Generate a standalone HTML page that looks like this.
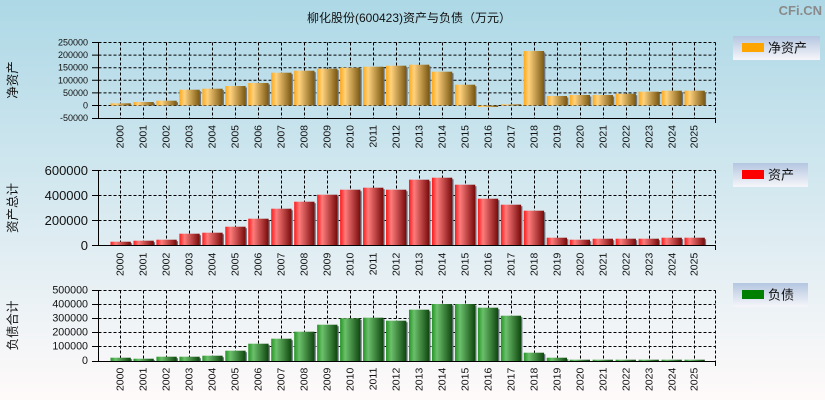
<!DOCTYPE html>
<html><head><meta charset="utf-8">
<style>
html,body{margin:0;padding:0;}
body{width:825px;height:400px;overflow:hidden;}
svg{display:block;}
text{font-family:"Liberation Sans","Noto Sans CJK SC",sans-serif;}
</style></head>
<body>
<svg width="825" height="400" viewBox="0 0 825 400" xmlns="http://www.w3.org/2000/svg">
<defs>
<linearGradient id="bg" x1="0" y1="0" x2="0" y2="1">
<stop offset="0" stop-color="#ADD8E6"/><stop offset="1" stop-color="#FFFAFA"/>
</linearGradient>
<linearGradient id="lg" x1="0" y1="0" x2="0" y2="1">
<stop offset="0" stop-color="#B4C6E0"/><stop offset="1" stop-color="#F6F6FA"/>
</linearGradient>
<linearGradient id="go" x1="0" y1="0" x2="1" y2="0">
<stop offset="0" stop-color="#FFA818"/><stop offset="0.25" stop-color="#FFD27E"/><stop offset="1" stop-color="#7A5812"/>
</linearGradient>
<linearGradient id="gr" x1="0" y1="0" x2="1" y2="0">
<stop offset="0" stop-color="#FF1818"/><stop offset="0.25" stop-color="#FF7C7C"/><stop offset="1" stop-color="#780A0A"/>
</linearGradient>
<linearGradient id="gg" x1="0" y1="0" x2="1" y2="0">
<stop offset="0" stop-color="#249424"/><stop offset="0.25" stop-color="#6CC06C"/><stop offset="1" stop-color="#0E460E"/>
</linearGradient>
</defs>
<rect x="0" y="0" width="825" height="400" fill="url(#bg)"/>

<!-- title -->
<text x="409" y="22" font-size="12" text-anchor="middle" fill="#111">柳化股份(600423)资产与负债（万元）</text>
<text x="822" y="15" font-size="13" font-weight="bold" text-anchor="end" fill="#8A8A8A">CFi.CN</text>

<!-- ============ TOP CHART ============ -->
<g stroke="#000" stroke-width="1" fill="none" stroke-dasharray="3,2">
<path d="M98.5 42.5H715.5M98.5 55.1H715.5M98.5 67.7H715.5M98.5 80.3H715.5M98.5 92.9H715.5M98.5 105.5H715.5"/>
<path d="M120.5 42.5V118M143.5 42.5V118M166.5 42.5V118M189.5 42.5V118M212.5 42.5V118M235.5 42.5V118M258.5 42.5V118M281.5 42.5V118M304.5 42.5V118M327.5 42.5V118M350.5 42.5V118M373.5 42.5V118M396.5 42.5V118M419.5 42.5V118M442.5 42.5V118M465.5 42.5V118M488.5 42.5V118M511.5 42.5V118M534.5 42.5V118M557.5 42.5V118M580.5 42.5V118M603.5 42.5V118M626.5 42.5V118M649.5 42.5V118M672.5 42.5V118M694.5 42.5V118M715.5 42.5V118"/>
</g>
<g fill="#6A7480">
<rect x="111.8" y="104.8" width="20.3" height="0.7"/>
<rect x="134.76" y="103.5" width="20.3" height="2"/>
<rect x="157.72" y="102.2" width="20.3" height="3.3"/>
<rect x="180.68" y="91.2" width="20.3" height="14.3"/>
<rect x="203.64" y="90.2" width="20.3" height="15.3"/>
<rect x="226.6" y="87.5" width="20.3" height="18"/>
<rect x="249.56" y="84.5" width="20.3" height="21"/>
<rect x="272.52" y="74.2" width="20.3" height="31.3"/>
<rect x="295.48" y="72.2" width="20.3" height="33.3"/>
<rect x="318.44" y="70.2" width="20.3" height="35.3"/>
<rect x="341.4" y="69.2" width="20.3" height="36.3"/>
<rect x="364.36" y="68.2" width="20.3" height="37.3"/>
<rect x="387.32" y="67.2" width="20.3" height="38.3"/>
<rect x="410.28" y="66.2" width="20.3" height="39.3"/>
<rect x="433.24" y="73.2" width="20.3" height="32.3"/>
<rect x="456.2" y="86.2" width="20.3" height="19.3"/>
<rect x="525.08" y="52.5" width="20.3" height="53"/>
<rect x="548.04" y="97.5" width="20.3" height="8"/>
<rect x="571" y="96.5" width="20.3" height="9"/>
<rect x="593.96" y="96.5" width="20.3" height="9"/>
<rect x="616.92" y="95.2" width="20.3" height="10.3"/>
<rect x="639.88" y="93.2" width="20.3" height="12.3"/>
<rect x="662.84" y="92.2" width="20.3" height="13.3"/>
<rect x="685.8" y="92.2" width="20.3" height="13.3"/>
</g>
<g fill="url(#go)">
<rect x="110.5" y="103.3" width="20.3" height="2.2"/>
<rect x="133.46" y="102" width="20.3" height="3.5"/>
<rect x="156.42" y="100.7" width="20.3" height="4.8"/>
<rect x="179.38" y="89.7" width="20.3" height="15.8"/>
<rect x="202.34" y="88.7" width="20.3" height="16.8"/>
<rect x="225.3" y="86" width="20.3" height="19.5"/>
<rect x="248.26" y="83" width="20.3" height="22.5"/>
<rect x="271.22" y="72.7" width="20.3" height="32.8"/>
<rect x="294.18" y="70.7" width="20.3" height="34.8"/>
<rect x="317.14" y="68.7" width="20.3" height="36.8"/>
<rect x="340.1" y="67.7" width="20.3" height="37.8"/>
<rect x="363.06" y="66.7" width="20.3" height="38.8"/>
<rect x="386.02" y="65.7" width="20.3" height="39.8"/>
<rect x="408.98" y="64.7" width="20.3" height="40.8"/>
<rect x="431.94" y="71.7" width="20.3" height="33.8"/>
<rect x="454.9" y="84.7" width="20.3" height="20.8"/>
<rect x="477.86" y="105.5" width="20.3" height="1.5"/>
<rect x="500.82" y="104.3" width="20.3" height="1.2"/>
<rect x="523.78" y="51" width="20.3" height="54.5"/>
<rect x="546.74" y="96" width="20.3" height="9.5"/>
<rect x="569.7" y="95" width="20.3" height="10.5"/>
<rect x="592.66" y="95" width="20.3" height="10.5"/>
<rect x="615.62" y="93.7" width="20.3" height="11.8"/>
<rect x="638.58" y="91.7" width="20.3" height="13.8"/>
<rect x="661.54" y="90.7" width="20.3" height="14.8"/>
<rect x="684.5" y="90.7" width="20.3" height="14.8"/>
</g>
<g stroke="#000" stroke-width="1" fill="none">
<path d="M98.5 42.5V118.5M92 118.5H716M715.5 118V123"/>
<path d="M92 42.5H98.5M92 55.1H98.5M92 67.7H98.5M92 80.3H98.5M92 92.9H98.5M92 105.5H98.5"/>
</g>
<g font-size="9" text-anchor="end" fill="#111" dominant-baseline="central">
<text x="88" y="42.5">250000</text>
<text x="88" y="55.1">200000</text>
<text x="88" y="67.7">150000</text>
<text x="88" y="80.3">100000</text>
<text x="88" y="92.9">50000</text>
<text x="88" y="105.5">0</text>
<text x="88" y="118">-50000</text>
</g>
<text transform="translate(13,80) rotate(-90)" font-size="12.5" text-anchor="middle" dominant-baseline="central" fill="#111">净资产</text>

<!-- ============ MIDDLE CHART ============ -->
<g stroke="#000" stroke-width="1" fill="none" stroke-dasharray="3,2">
<path d="M98.5 170.5H715.5M98.5 195.5H715.5M98.5 220.5H715.5"/>
<path d="M120.5 170.5V245M143.5 170.5V245M166.5 170.5V245M189.5 170.5V245M212.5 170.5V245M235.5 170.5V245M258.5 170.5V245M281.5 170.5V245M304.5 170.5V245M327.5 170.5V245M350.5 170.5V245M373.5 170.5V245M396.5 170.5V245M419.5 170.5V245M442.5 170.5V245M465.5 170.5V245M488.5 170.5V245M511.5 170.5V245M534.5 170.5V245M557.5 170.5V245M580.5 170.5V245M603.5 170.5V245M626.5 170.5V245M649.5 170.5V245M672.5 170.5V245M694.5 170.5V245M715.5 170.5V245"/>
</g>
<g fill="#6A7480">
<rect x="111.8" y="243.2" width="20.3" height="2.1"/>
<rect x="134.76" y="242.2" width="20.3" height="3.1"/>
<rect x="157.72" y="241.2" width="20.3" height="4.1"/>
<rect x="180.68" y="235.2" width="20.3" height="10.1"/>
<rect x="203.64" y="234.2" width="20.3" height="11.1"/>
<rect x="226.6" y="228.2" width="20.3" height="17.1"/>
<rect x="249.56" y="220.2" width="20.3" height="25.1"/>
<rect x="272.52" y="210.2" width="20.3" height="35.1"/>
<rect x="295.48" y="203.2" width="20.3" height="42.1"/>
<rect x="318.44" y="196.2" width="20.3" height="49.1"/>
<rect x="341.4" y="191.2" width="20.3" height="54.1"/>
<rect x="364.36" y="189.2" width="20.3" height="56.1"/>
<rect x="387.32" y="191.2" width="20.3" height="54.1"/>
<rect x="410.28" y="181.2" width="20.3" height="64.1"/>
<rect x="433.24" y="179.2" width="20.3" height="66.1"/>
<rect x="456.2" y="186.2" width="20.3" height="59.1"/>
<rect x="479.16" y="200.2" width="20.3" height="45.1"/>
<rect x="502.12" y="206.2" width="20.3" height="39.1"/>
<rect x="525.08" y="212.2" width="20.3" height="33.1"/>
<rect x="548.04" y="239.2" width="20.3" height="6.1"/>
<rect x="571" y="241.2" width="20.3" height="4.1"/>
<rect x="593.96" y="240.2" width="20.3" height="5.1"/>
<rect x="616.92" y="240.2" width="20.3" height="5.1"/>
<rect x="639.88" y="240.2" width="20.3" height="5.1"/>
<rect x="662.84" y="239.2" width="20.3" height="6.1"/>
<rect x="685.8" y="239.2" width="20.3" height="6.1"/>
</g>
<g fill="url(#gr)">
<rect x="110.5" y="241.7" width="20.3" height="3.6"/>
<rect x="133.46" y="240.7" width="20.3" height="4.6"/>
<rect x="156.42" y="239.7" width="20.3" height="5.6"/>
<rect x="179.38" y="233.7" width="20.3" height="11.6"/>
<rect x="202.34" y="232.7" width="20.3" height="12.6"/>
<rect x="225.3" y="226.7" width="20.3" height="18.6"/>
<rect x="248.26" y="218.7" width="20.3" height="26.6"/>
<rect x="271.22" y="208.7" width="20.3" height="36.6"/>
<rect x="294.18" y="201.7" width="20.3" height="43.6"/>
<rect x="317.14" y="194.7" width="20.3" height="50.6"/>
<rect x="340.1" y="189.7" width="20.3" height="55.6"/>
<rect x="363.06" y="187.7" width="20.3" height="57.6"/>
<rect x="386.02" y="189.7" width="20.3" height="55.6"/>
<rect x="408.98" y="179.7" width="20.3" height="65.6"/>
<rect x="431.94" y="177.7" width="20.3" height="67.6"/>
<rect x="454.9" y="184.7" width="20.3" height="60.6"/>
<rect x="477.86" y="198.7" width="20.3" height="46.6"/>
<rect x="500.82" y="204.7" width="20.3" height="40.6"/>
<rect x="523.78" y="210.7" width="20.3" height="34.6"/>
<rect x="546.74" y="237.7" width="20.3" height="7.6"/>
<rect x="569.7" y="239.7" width="20.3" height="5.6"/>
<rect x="592.66" y="238.7" width="20.3" height="6.6"/>
<rect x="615.62" y="238.7" width="20.3" height="6.6"/>
<rect x="638.58" y="238.7" width="20.3" height="6.6"/>
<rect x="661.54" y="237.7" width="20.3" height="7.6"/>
<rect x="684.5" y="237.7" width="20.3" height="7.6"/>
</g>
<g stroke="#000" stroke-width="1" fill="none">
<path d="M98.5 170.5V245.5M92 245.5H716M715.5 245V250"/>
<path d="M92 170.5H98.5M92 195.5H98.5M92 220.5H98.5"/>
</g>
<g font-size="13" text-anchor="end" fill="#111" dominant-baseline="central">
<text x="88" y="170.5">600000</text>
<text x="88" y="195.5">400000</text>
<text x="88" y="220.5">200000</text>
<text x="88" y="245.5">0</text>
</g>
<text transform="translate(13,208) rotate(-90)" font-size="12.5" text-anchor="middle" dominant-baseline="central" fill="#111">资产总计</text>

<!-- ============ BOTTOM CHART ============ -->
<g stroke="#000" stroke-width="1" fill="none" stroke-dasharray="3,2">
<path d="M98.5 290.5H715.5M98.5 304.5H715.5M98.5 318.5H715.5M98.5 332.5H715.5M98.5 346.5H715.5"/>
<path d="M120.5 290.5V361M143.5 290.5V361M166.5 290.5V361M189.5 290.5V361M212.5 290.5V361M235.5 290.5V361M258.5 290.5V361M281.5 290.5V361M304.5 290.5V361M327.5 290.5V361M350.5 290.5V361M373.5 290.5V361M396.5 290.5V361M419.5 290.5V361M442.5 290.5V361M465.5 290.5V361M488.5 290.5V361M511.5 290.5V361M534.5 290.5V361M557.5 290.5V361M580.5 290.5V361M603.5 290.5V361M626.5 290.5V361M649.5 290.5V361M672.5 290.5V361M694.5 290.5V361M715.5 290.5V361"/>
</g>
<g fill="#6A7480">
<rect x="111.8" y="359.2" width="20.3" height="1.8"/>
<rect x="134.76" y="360.2" width="20.3" height="0.8"/>
<rect x="157.72" y="358.2" width="20.3" height="2.8"/>
<rect x="180.68" y="358.2" width="20.3" height="2.8"/>
<rect x="203.64" y="357.2" width="20.3" height="3.8"/>
<rect x="226.6" y="352.2" width="20.3" height="8.8"/>
<rect x="249.56" y="345.2" width="20.3" height="15.8"/>
<rect x="272.52" y="340.2" width="20.3" height="20.8"/>
<rect x="295.48" y="333.2" width="20.3" height="27.8"/>
<rect x="318.44" y="326.2" width="20.3" height="34.8"/>
<rect x="341.4" y="319.8" width="20.3" height="41.2"/>
<rect x="364.36" y="319.2" width="20.3" height="41.8"/>
<rect x="387.32" y="322.2" width="20.3" height="38.8"/>
<rect x="410.28" y="311.2" width="20.3" height="49.8"/>
<rect x="433.24" y="305.5" width="20.3" height="55.5"/>
<rect x="456.2" y="305.5" width="20.3" height="55.5"/>
<rect x="479.16" y="309.2" width="20.3" height="51.8"/>
<rect x="502.12" y="317.2" width="20.3" height="43.8"/>
<rect x="525.08" y="354.2" width="20.3" height="6.8"/>
<rect x="548.04" y="359.2" width="20.3" height="1.8"/>
</g>
<g fill="url(#gg)">
<rect x="110.5" y="357.7" width="20.3" height="3.3"/>
<rect x="133.46" y="358.7" width="20.3" height="2.3"/>
<rect x="156.42" y="356.7" width="20.3" height="4.3"/>
<rect x="179.38" y="356.7" width="20.3" height="4.3"/>
<rect x="202.34" y="355.7" width="20.3" height="5.3"/>
<rect x="225.3" y="350.7" width="20.3" height="10.3"/>
<rect x="248.26" y="343.7" width="20.3" height="17.3"/>
<rect x="271.22" y="338.7" width="20.3" height="22.3"/>
<rect x="294.18" y="331.7" width="20.3" height="29.3"/>
<rect x="317.14" y="324.7" width="20.3" height="36.3"/>
<rect x="340.1" y="318.3" width="20.3" height="42.7"/>
<rect x="363.06" y="317.7" width="20.3" height="43.3"/>
<rect x="386.02" y="320.7" width="20.3" height="40.3"/>
<rect x="408.98" y="309.7" width="20.3" height="51.3"/>
<rect x="431.94" y="304" width="20.3" height="57"/>
<rect x="454.9" y="304" width="20.3" height="57"/>
<rect x="477.86" y="307.7" width="20.3" height="53.3"/>
<rect x="500.82" y="315.7" width="20.3" height="45.3"/>
<rect x="523.78" y="352.7" width="20.3" height="8.3"/>
<rect x="546.74" y="357.7" width="20.3" height="3.3"/>
<rect x="569.7" y="359.7" width="20.3" height="1.3"/>
<rect x="592.66" y="359.7" width="20.3" height="1.3"/>
<rect x="615.62" y="359.7" width="20.3" height="1.3"/>
<rect x="638.58" y="359.7" width="20.3" height="1.3"/>
<rect x="661.54" y="359.7" width="20.3" height="1.3"/>
<rect x="684.5" y="359.7" width="20.3" height="1.3"/>
</g>
<g stroke="#000" stroke-width="1" fill="none">
<path d="M98.5 290.5V361.5M92 361.5H716M715.5 361V366"/>
<path d="M92 290.5H98.5M92 304.5H98.5M92 318.5H98.5M92 332.5H98.5M92 346.5H98.5"/>
</g>
<g font-size="10.7" text-anchor="end" fill="#111" dominant-baseline="central">
<text x="88" y="290.5">500000</text>
<text x="88" y="304.5">400000</text>
<text x="88" y="318.5">300000</text>
<text x="88" y="332.5">200000</text>
<text x="88" y="346.5">100000</text>
<text x="88" y="361">0</text>
</g>
<text transform="translate(13,325.5) rotate(-90)" font-size="12.5" text-anchor="middle" dominant-baseline="central" fill="#111">负债合计</text>

<!-- year labels -->
<g font-size="10.5" fill="#111" text-anchor="end" dominant-baseline="central">
<text transform="translate(120.5,125) rotate(-90)">2000</text>
<text transform="translate(143.5,125) rotate(-90)">2001</text>
<text transform="translate(166.5,125) rotate(-90)">2002</text>
<text transform="translate(189.5,125) rotate(-90)">2003</text>
<text transform="translate(212.5,125) rotate(-90)">2004</text>
<text transform="translate(235.5,125) rotate(-90)">2005</text>
<text transform="translate(258.5,125) rotate(-90)">2006</text>
<text transform="translate(281.5,125) rotate(-90)">2007</text>
<text transform="translate(304.5,125) rotate(-90)">2008</text>
<text transform="translate(327.5,125) rotate(-90)">2009</text>
<text transform="translate(350.5,125) rotate(-90)">2010</text>
<text transform="translate(373.5,125) rotate(-90)">2011</text>
<text transform="translate(396.5,125) rotate(-90)">2012</text>
<text transform="translate(419.5,125) rotate(-90)">2013</text>
<text transform="translate(442.5,125) rotate(-90)">2014</text>
<text transform="translate(465.5,125) rotate(-90)">2015</text>
<text transform="translate(488.5,125) rotate(-90)">2016</text>
<text transform="translate(511.5,125) rotate(-90)">2017</text>
<text transform="translate(534.5,125) rotate(-90)">2018</text>
<text transform="translate(557.5,125) rotate(-90)">2019</text>
<text transform="translate(580.5,125) rotate(-90)">2020</text>
<text transform="translate(603.5,125) rotate(-90)">2021</text>
<text transform="translate(626.5,125) rotate(-90)">2022</text>
<text transform="translate(649.5,125) rotate(-90)">2023</text>
<text transform="translate(672.5,125) rotate(-90)">2024</text>
<text transform="translate(694.5,125) rotate(-90)">2025</text>

<text transform="translate(120.5,252.7) rotate(-90)">2000</text>
<text transform="translate(143.5,252.7) rotate(-90)">2001</text>
<text transform="translate(166.5,252.7) rotate(-90)">2002</text>
<text transform="translate(189.5,252.7) rotate(-90)">2003</text>
<text transform="translate(212.5,252.7) rotate(-90)">2004</text>
<text transform="translate(235.5,252.7) rotate(-90)">2005</text>
<text transform="translate(258.5,252.7) rotate(-90)">2006</text>
<text transform="translate(281.5,252.7) rotate(-90)">2007</text>
<text transform="translate(304.5,252.7) rotate(-90)">2008</text>
<text transform="translate(327.5,252.7) rotate(-90)">2009</text>
<text transform="translate(350.5,252.7) rotate(-90)">2010</text>
<text transform="translate(373.5,252.7) rotate(-90)">2011</text>
<text transform="translate(396.5,252.7) rotate(-90)">2012</text>
<text transform="translate(419.5,252.7) rotate(-90)">2013</text>
<text transform="translate(442.5,252.7) rotate(-90)">2014</text>
<text transform="translate(465.5,252.7) rotate(-90)">2015</text>
<text transform="translate(488.5,252.7) rotate(-90)">2016</text>
<text transform="translate(511.5,252.7) rotate(-90)">2017</text>
<text transform="translate(534.5,252.7) rotate(-90)">2018</text>
<text transform="translate(557.5,252.7) rotate(-90)">2019</text>
<text transform="translate(580.5,252.7) rotate(-90)">2020</text>
<text transform="translate(603.5,252.7) rotate(-90)">2021</text>
<text transform="translate(626.5,252.7) rotate(-90)">2022</text>
<text transform="translate(649.5,252.7) rotate(-90)">2023</text>
<text transform="translate(672.5,252.7) rotate(-90)">2024</text>
<text transform="translate(694.5,252.7) rotate(-90)">2025</text>

<text transform="translate(120.5,367.7) rotate(-90)">2000</text>
<text transform="translate(143.5,367.7) rotate(-90)">2001</text>
<text transform="translate(166.5,367.7) rotate(-90)">2002</text>
<text transform="translate(189.5,367.7) rotate(-90)">2003</text>
<text transform="translate(212.5,367.7) rotate(-90)">2004</text>
<text transform="translate(235.5,367.7) rotate(-90)">2005</text>
<text transform="translate(258.5,367.7) rotate(-90)">2006</text>
<text transform="translate(281.5,367.7) rotate(-90)">2007</text>
<text transform="translate(304.5,367.7) rotate(-90)">2008</text>
<text transform="translate(327.5,367.7) rotate(-90)">2009</text>
<text transform="translate(350.5,367.7) rotate(-90)">2010</text>
<text transform="translate(373.5,367.7) rotate(-90)">2011</text>
<text transform="translate(396.5,367.7) rotate(-90)">2012</text>
<text transform="translate(419.5,367.7) rotate(-90)">2013</text>
<text transform="translate(442.5,367.7) rotate(-90)">2014</text>
<text transform="translate(465.5,367.7) rotate(-90)">2015</text>
<text transform="translate(488.5,367.7) rotate(-90)">2016</text>
<text transform="translate(511.5,367.7) rotate(-90)">2017</text>
<text transform="translate(534.5,367.7) rotate(-90)">2018</text>
<text transform="translate(557.5,367.7) rotate(-90)">2019</text>
<text transform="translate(580.5,367.7) rotate(-90)">2020</text>
<text transform="translate(603.5,367.7) rotate(-90)">2021</text>
<text transform="translate(626.5,367.7) rotate(-90)">2022</text>
<text transform="translate(649.5,367.7) rotate(-90)">2023</text>
<text transform="translate(672.5,367.7) rotate(-90)">2024</text>
<text transform="translate(694.5,367.7) rotate(-90)">2025</text>
</g>

<!-- legends -->
<rect x="733" y="36" width="87" height="24" fill="url(#lg)"/>
<rect x="742" y="43" width="22" height="9" fill="#FFA500"/>
<text x="768" y="48" font-size="13" dominant-baseline="central" fill="#111">净资产</text>

<rect x="733" y="163" width="75" height="24" fill="url(#lg)"/>
<rect x="742" y="170" width="22" height="9" fill="#FF0000"/>
<text x="768" y="175" font-size="13" dominant-baseline="central" fill="#111">资产</text>

<rect x="733" y="283" width="75" height="24" fill="url(#lg)"/>
<rect x="742" y="290" width="22" height="9" fill="#008000"/>
<text x="768" y="295" font-size="13" dominant-baseline="central" fill="#111">负债</text>
</svg>
</body></html>
